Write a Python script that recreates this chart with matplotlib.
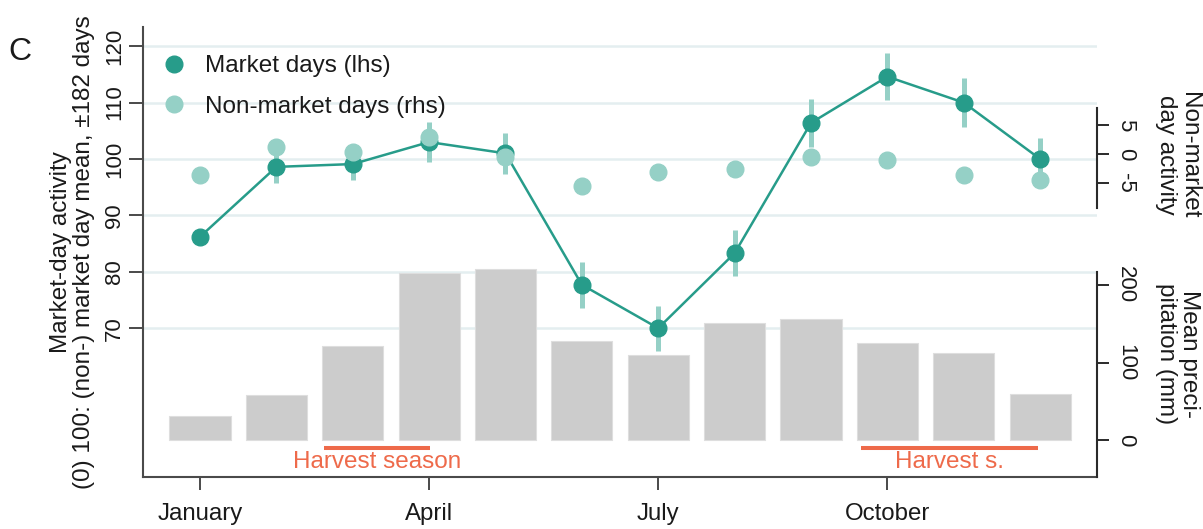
import matplotlib
matplotlib.use('Agg')
import matplotlib.pyplot as plt
from matplotlib.lines import Line2D

plt.rcParams['font.family'] = ['Liberation Sans', 'DejaVu Sans']
plt.rcParams['axes.unicode_minus'] = False

# ---------------- data ----------------
months = [1, 2, 3, 4, 5, 6, 7, 8, 9, 10, 11, 12]
month_ticks = [1, 4, 7, 10]
month_labels = ['January', 'April', 'July', 'October']

market = [86.2, 98.6, 99.1, 103.0, 101.0, 77.7, 70.0, 83.3, 106.4, 114.6, 110.0, 100.0]
market_err = [1.0, 2.8, 2.8, 3.5, 3.6, 4.1, 4.0, 4.1, 4.2, 4.2, 4.3, 3.7]
nonmarket = [-3.7, 1.25, 0.3, 3.0, -0.5, -5.6, -3.05, -2.6, -0.5, -1.0, -3.6, -4.5]
precip = [31.4, 58, 121.7, 215.9, 220.2, 127.7, 109.7, 150.5, 156.1, 124.7, 111.8, 59.4]

harvest_start = [2.62, 9.65]
harvest_end = [4.01, 11.97]
harvest_text = ['Harvest season', 'Harvest s.']

left_ticks = [70, 80, 90, 100, 110, 120]
nm_ticks = [-5, 0, 5]
precip_ticks = [0, 100, 200]

legend_labels = ['Market days (lhs)', 'Non-market days (rhs)']

# ---------------- style ----------------
DARK = '#279c8a'
LIGHT = '#95d0c6'
BAR = '#cccccc'
ORANGE = '#ee6a4a'
GRID = '#e4eef0'
SPINE = '#4a4a4a'
TXT = '#1a1a1a'

W, H = 1203, 529
fig = plt.figure(figsize=(W / 100, H / 100), dpi=100)


def px(x0, y0, x1, y1):
    return [x0 / W, 1 - y1 / H, (x1 - x0) / W, (y1 - y0) / H]


pos = px(143, 27, 1097, 477)
XLIM = (0.2537, 12.745)

ax = fig.add_axes(pos, zorder=1)
axp = fig.add_axes(pos, zorder=2)
axn = fig.add_axes(pos, zorder=3)

# ---------- main (market days) ----------
ax.set_xlim(*XLIM)
ax.set_ylim(43.62, 123.40)
ax.set_yticks(left_ticks)
ax.set_yticklabels([str(t) for t in left_ticks], rotation=90, va='center')
ax.yaxis.grid(True, color=GRID, lw=1.8)
ax.set_axisbelow(True)
for s in ['top', 'right']:
    ax.spines[s].set_visible(False)
for s in ['left', 'bottom']:
    ax.spines[s].set_color(SPINE)
    ax.spines[s].set_linewidth(1.5)
ax.tick_params(axis='y', length=10, width=1.4, color=SPINE, labelsize=16, pad=3, labelcolor=TXT)
ax.set_xticks(month_ticks)
ax.set_xticklabels(month_labels)
ax.tick_params(axis='x', length=9.4, width=1.4, color=SPINE, labelsize=17.3, pad=9.5, labelcolor=TXT)

ax.errorbar(months, market, yerr=market_err, fmt='none', ecolor=LIGHT,
            elinewidth=3.6, capsize=0, zorder=2)
ax.plot(months, market, color=DARK, lw=1.8, marker='o', ms=12, zorder=3)

# harvest seasons
xt = ax.get_xaxis_transform()
for s, e, t in zip(harvest_start, harvest_end, harvest_text):
    ax.plot([s, e], [0.0651, 0.0651], transform=xt, color=ORANGE, lw=2.9,
            solid_capstyle='butt', clip_on=False)
    ax.text((s + e) / 2, 0.0193, t, transform=xt, color=ORANGE, fontsize=17.5,
            ha='center', va='baseline')

handles = [Line2D([], [], marker='o', ls='none', color=DARK, ms=12),
           Line2D([], [], marker='o', ls='none', color=LIGHT, ms=12)]
ax.legend(handles, legend_labels, loc='upper left',
          bbox_to_anchor=((161.8 - 143) / 954, (477 - 55) / 450),
          frameon=False, fontsize=17.5, handlelength=1.0, handletextpad=0.78,
          borderpad=0, borderaxespad=0, labelspacing=0.76, labelcolor=TXT)

# ---------- precipitation axis ----------
axp.patch.set_visible(False)
axp.set_xlim(*XLIM)
axp.set_ylim(-47.7, 532.9)
axp.bar(months, precip, width=0.8, color=BAR, edgecolor='#dedede', lw=0.8)
for s in ['left', 'top', 'bottom']:
    axp.spines[s].set_visible(False)
axp.spines['right'].set_bounds(-47.7, 216.8)
axp.spines['right'].set_color('#2a2a2a')
axp.spines['right'].set_linewidth(1.5)
axp.set_xticks([])
axp.yaxis.tick_right()
axp.set_yticks(precip_ticks)
axp.set_yticklabels([str(t) for t in precip_ticks], rotation=-90, va='center')
axp.tick_params(axis='y', length=8.6, width=1.4, color='#2a2a2a', labelsize=16, pad=4.5,
                labelcolor=TXT)

# ---------- non-market axis ----------
axn.patch.set_visible(False)
axn.set_xlim(*XLIM)
axn.set_ylim(-55.7, 21.9)
axn.plot(months, nonmarket, ls='none', marker='o', ms=12, color=LIGHT, zorder=3)
for s in ['left', 'top', 'bottom']:
    axn.spines[s].set_visible(False)
axn.spines['right'].set_bounds(-9.3, 7.9)
axn.spines['right'].set_color('#2a2a2a')
axn.spines['right'].set_linewidth(1.5)
axn.set_xticks([])
axn.yaxis.tick_right()
axn.set_yticks(nm_ticks)
axn.set_yticklabels([str(t) for t in nm_ticks], rotation=-90, va='center')
axn.tick_params(axis='y', length=8.6, width=1.4, color='#2a2a2a', labelsize=16, pad=4.5,
                labelcolor=TXT)

# ---------- axis titles ----------
fig.text(72.5 / W, 1 - 252 / H,
         'Market-day activity\n(0) 100: (non-) market day mean, \u00b1182 days',
         rotation=90, ha='center', va='center', multialignment='center',
         fontsize=17.5, linespacing=1.05, color=TXT)
fig.text(1177.5 / W, 1 - 155 / H, 'Non-market\nday activity', rotation=-90,
         ha='center', va='center', multialignment='center', fontsize=17.5,
         linespacing=1.05, color=TXT)
fig.text(1177.5 / W, 1 - 354 / H, 'Mean preci-\npitation (mm)', rotation=-90,
         ha='center', va='center', multialignment='center', fontsize=17.5,
         linespacing=1.05, color=TXT)
fig.text(8 / W, 1 - 60 / H, 'C', fontsize=23, ha='left', va='baseline', color=TXT)

fig.savefig('out.png', dpi=100)
